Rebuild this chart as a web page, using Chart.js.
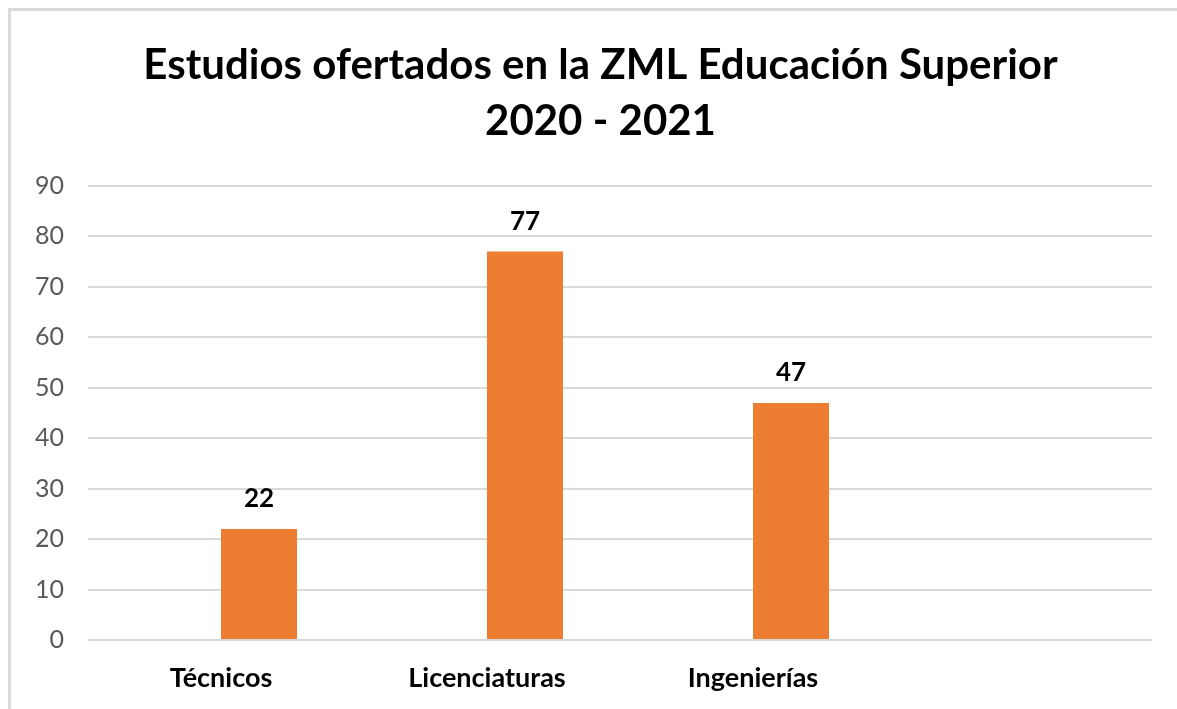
<!DOCTYPE html>
<html>
<head>
<meta charset="utf-8">
<script src="https://cdn.jsdelivr.net/npm/chart.js@4.4.1/dist/chart.umd.min.js"></script>
<style>
  html, body { margin: 0; padding: 0; background: #ffffff; }
  #wrap { position: relative; width: 1177px; height: 709px; overflow: hidden; }
  #frame { position: absolute; left: 8px; top: 8px; width: 1300px; height: 900px;
           border-top: 3px solid #d9d9d9; border-left: 3px solid #d9d9d9; box-sizing: border-box; pointer-events: none; }
  canvas { position: absolute; left: 0; top: 0; }
</style>
</head>
<body>
<div id="wrap">
  <canvas id="c" width="1177" height="709"></canvas>
  <div id="frame"></div>
</div>
<script>
const titleLines = ['Estudios ofertados en la ZML Educación Superior', '2020 - 2021'];
const categories = ['Técnicos', 'Licenciaturas', 'Ingenierías', ''];
const seriesEmpty = [null, null, null, null];
const seriesValues = [22, 77, 47, null];
const yMin = 0;
const yMax = 90;
const yStep = 10;

const valueLabels = {
  id: 'valueLabels',
  afterDatasetsDraw(chart) {
    const ctx = chart.ctx;
    const meta = chart.getDatasetMeta(1);
    ctx.save();
    ctx.font = 'bold 26px Lato';
    ctx.fillStyle = '#000000';
    ctx.textAlign = 'center';
    ctx.textBaseline = 'alphabetic';
    meta.data.forEach((el, i) => {
      const v = chart.data.datasets[1].data[i];
      if (v === null || v === undefined) return;
      ctx.fillText(String(v), el.x, el.y - 22);
    });
    ctx.restore();
  }
};

const titleShift = {
  id: 'titleShift',
  afterLayout(chart) {
    const t = chart.titleBlock;
    if (t) { t.left = 24; t.right = 1177; t.width = t.right - t.left; }
  }
};

new Chart(document.getElementById('c'), {
  type: 'bar',
  data: {
    labels: categories,
    datasets: [
      { label: 'Serie 1', data: seriesEmpty, backgroundColor: '#4472C4' },
      { label: 'Serie 2', data: seriesValues, backgroundColor: '#ED7D31', borderWidth: 0 }
    ]
  },
  options: {
    responsive: false,
    animation: false,
    devicePixelRatio: 1,
    categoryPercentage: 0.5714,
    barPercentage: 1,
    layout: { padding: { top: 10, right: 25, bottom: 0, left: 0 } },
    plugins: {
      legend: { display: false },
      tooltip: { enabled: false },
      title: {
        display: true,
        text: titleLines,
        color: '#000000',
        font: { family: 'Lato', size: 42, weight: 'bold', lineHeight: 1.333 },
        padding: { top: 27, bottom: 37 }
      }
    },
    scales: {
      x: {
        grid: { display: false, drawTicks: false },
        border: { display: false },
        ticks: {
          color: '#000000',
          font: { family: 'Lato', size: 27, weight: 'bold' },
          padding: 22,
          maxRotation: 0,
          autoSkip: false
        },
        afterFit(s) { s.height = 69; }
      },
      y: {
        min: yMin,
        max: yMax,
        grid: { color: '#d9d9d9', lineWidth: 2, drawTicks: false },
        border: { display: false },
        ticks: {
          stepSize: yStep,
          color: '#595959',
          font: { family: 'Lato', size: 25 },
          padding: 24
        },
        afterFit(s) { s.width = 88; }
      }
    }
  },
  plugins: [valueLabels, titleShift]
});
</script>
</body>
</html>
